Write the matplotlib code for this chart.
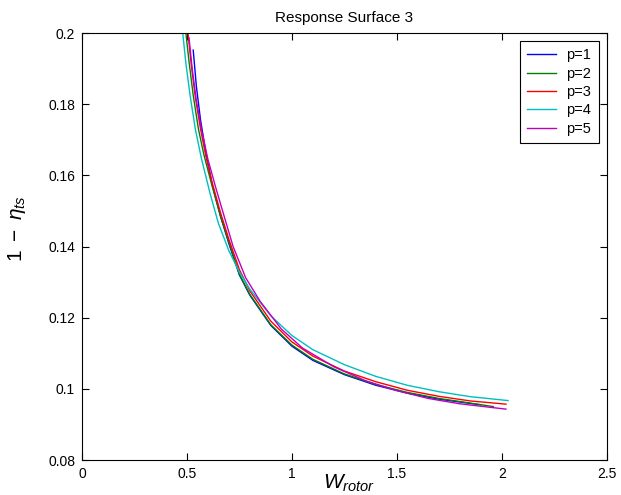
import matplotlib
matplotlib.use("Agg")
import matplotlib.pyplot as plt

plt.rcParams['font.family'] = ['Liberation Sans', 'DejaVu Sans']
plt.rcParams['mathtext.fontset'] = 'custom'
plt.rcParams['mathtext.rm'] = 'Liberation Sans'
plt.rcParams['mathtext.it'] = 'Liberation Sans:italic'

# curves
x_p1 = [0.530, 0.545, 0.565, 0.59, 0.62, 0.66, 0.70, 0.75, 0.80, 0.90, 1.00, 1.10, 1.25, 1.40, 1.55, 1.70, 1.90]
y_p1 = [0.1952, 0.1850, 0.1755, 0.1665, 0.1575, 0.1485, 0.1408, 0.1320, 0.1263, 0.1178, 0.1120, 0.1080, 0.1040, 0.1010, 0.0988, 0.0971, 0.0955]

x_p2 = [0.495, 0.51, 0.53, 0.555, 0.58, 0.62, 0.66, 0.70, 0.75, 0.80, 0.90, 1.00, 1.10, 1.25, 1.40, 1.55, 1.70, 1.85, 1.96]
y_p2 = [0.200, 0.192, 0.1825, 0.1730, 0.1660, 0.1570, 0.1485, 0.1412, 0.1322, 0.1265, 0.1180, 0.1123, 0.1083, 0.1042, 0.1012, 0.0990, 0.0973, 0.0960, 0.0950]

x_p3 = [0.505, 0.52, 0.54, 0.565, 0.59, 0.62, 0.66, 0.70, 0.75, 0.80, 0.90, 1.00, 1.10, 1.25, 1.40, 1.55, 1.70, 1.85, 2.02]
y_p3 = [0.200, 0.1915, 0.1820, 0.1730, 0.1655, 0.1580, 0.1495, 0.1420, 0.1335, 0.1275, 0.1190, 0.1132, 0.1092, 0.1050, 0.1020, 0.0996, 0.0979, 0.0966, 0.0957]

x_p4 = [0.480, 0.495, 0.515, 0.54, 0.57, 0.61, 0.65, 0.70, 0.75, 0.80, 0.90, 1.00, 1.10, 1.25, 1.40, 1.55, 1.70, 1.85, 2.03]
y_p4 = [0.200, 0.1915, 0.1825, 0.1730, 0.1645, 0.1550, 0.1465, 0.1388, 0.1328, 0.1280, 0.1205, 0.1150, 0.1110, 0.1068, 0.1035, 0.1010, 0.0992, 0.0978, 0.0967]

x_p5 = [0.510, 0.525, 0.545, 0.57, 0.60, 0.64, 0.68, 0.72, 0.78, 0.85, 0.95, 1.05, 1.20, 1.35, 1.50, 1.65, 1.80, 2.02]
y_p5 = [0.1986, 0.1900, 0.1810, 0.1727, 0.1645, 0.1560, 0.1480, 0.1400, 0.1312, 0.1245, 0.1168, 0.1115, 0.1062, 0.1023, 0.0995, 0.0973, 0.0958, 0.0943]

labels = ['p=1', 'p=2', 'p=3', 'p=4', 'p=5']
colors = ['#0000ff', '#008000', '#ff0000', '#00bfbf', '#bf00bf']

xticks = [0, 0.5, 1, 1.5, 2, 2.5]
xtick_labels = ['0', '0.5', '1', '1.5', '2', '2.5']
yticks = [0.08, 0.1, 0.12, 0.14, 0.16, 0.18, 0.2]
ytick_labels = ['0.08', '0.1', '0.12', '0.14', '0.16', '0.18', '0.2']

fig = plt.figure(figsize=(6.21, 4.95), dpi=100)
ax = fig.add_axes([0.132, 0.0707, 0.845, 0.8626])

xs = [x_p1, x_p2, x_p3, x_p4, x_p5]
ys = [y_p1, y_p2, y_p3, y_p4, y_p5]
for x, y, c, lab in zip(xs, ys, colors, labels):
    ax.plot(x, y, color=c, lw=1.0, label=lab)

ax.set_xlim(0, 2.5)
ax.set_ylim(0.08, 0.2)
ax.set_xticks(xticks)
ax.set_xticklabels(xtick_labels)
ax.set_yticks(yticks)
ax.set_yticklabels(ytick_labels)
ax.tick_params(direction='in', top=True, right=True, length=5, width=0.8,
               labelsize=10, pad=5)
for s in ax.spines.values():
    s.set_linewidth(0.8)

ax.set_title('Response Surface 3', fontsize=11, pad=8)
ax.set_xlabel(r'$W_{rotor}$', fontsize=15)
ax.set_ylabel(r'$1\ -\ \eta_{ts}$', fontsize=15)
ax.xaxis.set_label_coords(0.51, -0.03)
ax.yaxis.set_label_coords(-0.103, 0.543)

leg = ax.legend(loc='upper right', fontsize=10.5, fancybox=False, framealpha=1,
                edgecolor='black', handlelength=1.95, handletextpad=0.75,
                labelspacing=0.3, borderpad=0.5, borderaxespad=0.55)
leg.get_frame().set_linewidth(0.8)

plt.savefig('out.png', dpi=100)
